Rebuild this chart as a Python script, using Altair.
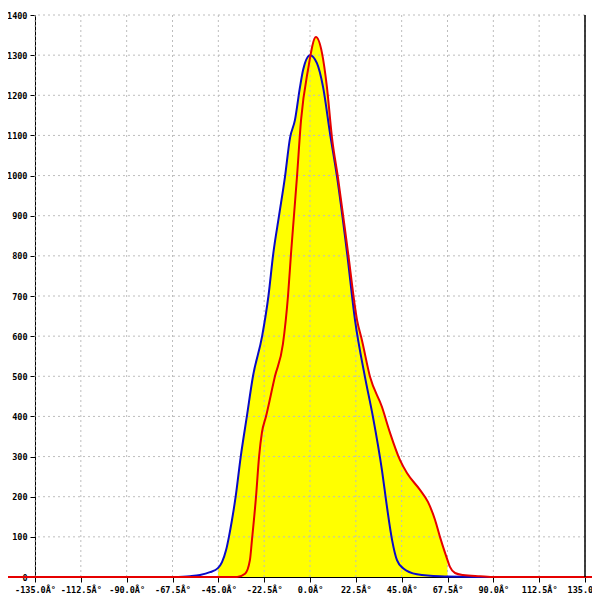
import altair as alt
import pandas as pd

# Blue series (x in degrees, y counts)
blue_x = [-67.3, -58.9, -54.0, -49.1, -45.2, -43.2, -41.2, -39.8, -38.3, -36.5, -34.0, -31.0,
          -28.0, -23.5, -20.4, -18.0, -15.2, -12.3, -9.8, -7.4, -4.9, -3.4, 0.0,
          3.4, 6.4, 9.8, 13.3, 18.2, 22.1, 27.0, 30.9, 35.3, 37.8, 40.3, 42.7, 45.7,
          52.5, 63.8, 90.3]
blue_y = [0, 2, 5, 12, 22, 37, 67, 100, 142, 200, 300, 400,
          500, 600, 700, 807, 900, 996, 1094, 1138, 1221, 1263, 1300,
          1280, 1221, 1106, 996, 807, 640, 498, 399, 267, 174, 92, 42, 22,
          7, 2, 0]

# Red series
red_x = [-152.2, -35.8, -31.9, -29.5, -28.5, -26.5, -25.0, -23.6, -21.6, -17.2, -13.3,
         -10.8, -9.3, -6.4, -4.4, -1.0, 2.9, 5.9, 8.3, 10.8, 13.7, 18.7, 23.1, 25.5,
         29.5, 35.3, 39.3, 44.2, 47.6, 54.0, 57.9, 61.4, 63.8, 66.3, 67.5, 68.7, 71.2,
         75.1, 83.5, 90.8, 142.4]
red_y = [0, 0, 8, 42, 92, 200, 300, 360, 400, 500, 580,
         700, 807, 996, 1138, 1263, 1345, 1305, 1221, 1094, 996, 807, 640, 590,
         498, 424, 359, 291, 259, 217, 187, 142, 100, 60, 42, 25, 10,
         5, 2, 0, 0]

x_ticks = [-135, -112.5, -90, -67.5, -45, -22.5, 0, 22.5, 45, 67.5, 90, 112.5, 135]
y_ticks = [0, 100, 200, 300, 400, 500, 600, 700, 800, 900, 1000, 1100, 1200, 1300, 1400]

blue = pd.DataFrame({"x": blue_x, "y": blue_y})
red = pd.DataFrame({"x": red_x, "y": red_y})
xt = pd.DataFrame({"x": x_ticks})
yt = pd.DataFrame({"y": y_ticks[1:]})

W, H = 550, 562
FONT = "DejaVu Sans Mono"

xscale = alt.Scale(domain=[-135, 135], nice=False, zero=False)
yscale = alt.Scale(domain=[0, 1400], nice=False, zero=False)

x_axis = alt.Axis(values=x_ticks, grid=False, title=None,
                  labelExpr="(datum.value < 0 ? '-' : '') + format(abs(datum.value), '.1f') + 'Â°'",
                  domainColor="black", tickColor="black", tickSize=5, labelColor="black",
                  labelFont=FONT, labelFontSize=8.5, labelFontWeight="bold", labelPadding=3,
                  labelFlush=False, labelOverlap=False)
y_axis = alt.Axis(values=y_ticks, grid=False, title=None, format="d",
                  domainColor="black", tickColor="black", tickSize=5, labelColor="black",
                  labelFont=FONT, labelFontSize=8.5, labelFontWeight="bold", labelPadding=3,
                  labelFlush=False, labelOverlap=False)

X = alt.X("x:Q", scale=xscale, axis=x_axis)
Y = alt.Y("y:Q", scale=yscale, axis=y_axis)

fill_blue = alt.Chart(blue).transform_filter("datum.x >= -45.5").mark_area(
    color="#ffff00", interpolate="monotone").encode(x=X, y=Y)
fill_red = alt.Chart(red).transform_filter("datum.x >= -40 && datum.x <= 67.6").mark_area(
    color="#ffff00", interpolate="monotone").encode(x=X, y=Y)

vgrid = alt.Chart(xt).mark_rule(color="#bdbdbd", strokeDash=[2, 3], strokeWidth=1).encode(x=X)
hgrid = alt.Chart(yt).mark_rule(color="#bdbdbd", strokeDash=[2, 3], strokeWidth=1).encode(y=Y)

blue_line = alt.Chart(blue).mark_line(color="#0a0ac8", strokeWidth=2, interpolate="monotone").encode(x=X, y=Y)
red_line = alt.Chart(red).mark_line(color="#e60000", strokeWidth=2, interpolate="monotone", clip=False).encode(x=X, y=Y)

frame = alt.Chart(pd.DataFrame({"x": [135]})).mark_rule(color="black", strokeWidth=1.5).encode(x=X)

chart = alt.layer(fill_blue, fill_red, vgrid, hgrid, blue_line, red_line, frame).properties(
    width=W, height=H,
    autosize=alt.AutoSizeParams(type="none"),
    padding={"left": 27, "top": 7, "right": 7, "bottom": 23},
    background="white",
).configure_view(stroke=None)

chart.save("out.html", embed_options={"renderer": "svg", "actions": False})
